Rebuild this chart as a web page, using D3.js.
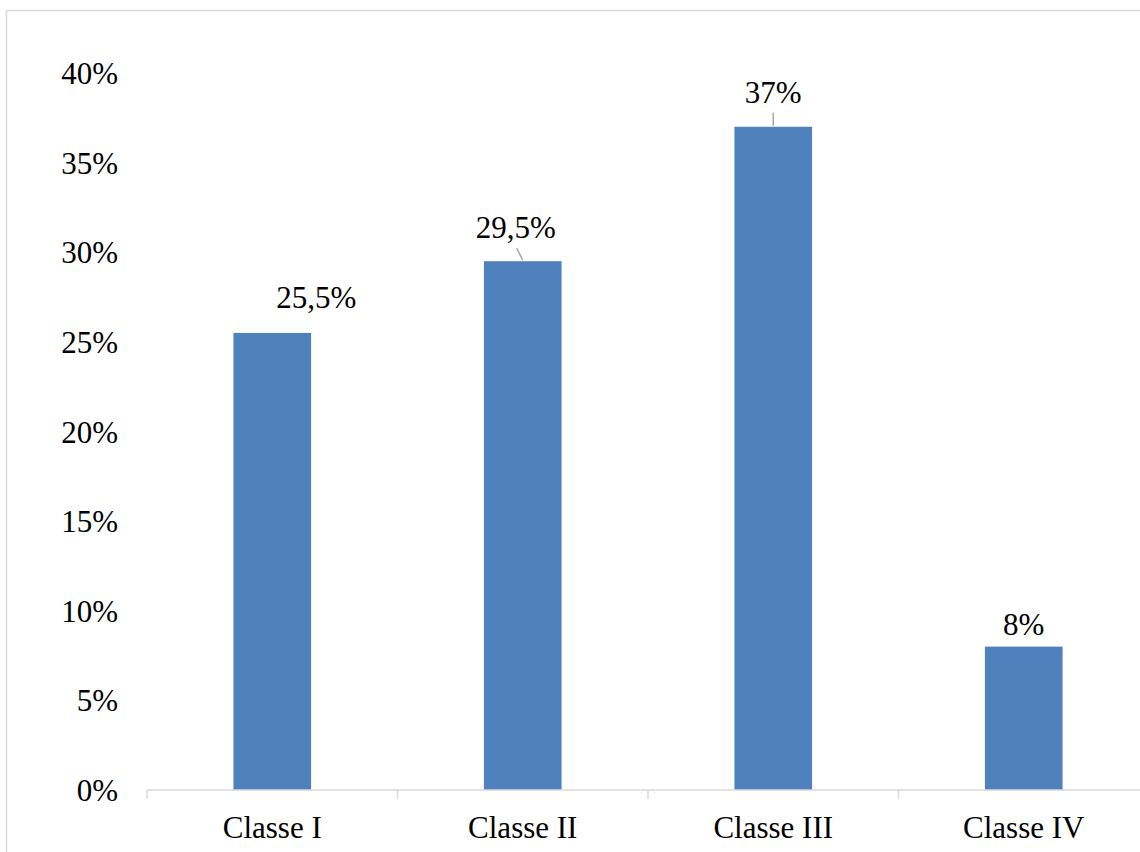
<!DOCTYPE html>
<html>
<head>
<meta charset="utf-8">
<script src="https://cdn.jsdelivr.net/npm/d3@7"></script>
<style>
  html, body { margin: 0; padding: 0; background: #fff; }
  svg { display: block; }
</style>
</head>
<body>
<svg id="chart" width="1140" height="852" font-family="Liberation Serif"></svg>
<script>
const categories = ["Classe I", "Classe II", "Classe III", "Classe IV"];
const values = [25.5, 29.5, 37, 8];
const valueLabels = ["25,5%", "29,5%", "37%", "8%"];
const yTicks = [0, 5, 10, 15, 20, 25, 30, 35, 40];

// manual label offsets (dx, dy above bar top) as placed in the original
const labelOffsets = [[44, -25], [-7, -23], [0, -24], [0, -12]];
const leaderLines = [null, [[-6, -13], [0, -1]], [[0, -14], [0, -1]], null];

const svg = d3.select("#chart");
const W = 1140, H = 852;

svg.append("rect")
  .attr("x", 6.5).attr("y", 10.5)
  .attr("width", W + 20).attr("height", H + 20)
  .attr("fill", "#fff").attr("stroke", "#d9d9d9").attr("stroke-width", 1.5);

const x0 = 147, x1 = 147 + 250.5 * 4;
const x = d3.scaleBand().domain(categories).range([x0, x1]).paddingInner(0.69).paddingOuter(0.345);
const y = d3.scaleLinear().domain([0, 40]).range([790, 73]);

// y axis labels
const yAxis = d3.axisLeft(y).tickValues(yTicks).tickFormat(d => d + "%").tickSize(0).tickPadding(0);
const gy = svg.append("g").attr("transform", "translate(118,0)").call(yAxis);
gy.attr("font-family", "Liberation Serif").attr("font-size", 31);
gy.select(".domain").remove();
gy.selectAll("text").attr("font-family", "Liberation Serif").attr("font-size", 31).attr("fill", "#000").attr("dy", "0.34em");

// bars
svg.selectAll("rect.bar").data(values).enter().append("rect")
  .attr("class", "bar")
  .attr("x", (d, i) => x(categories[i]))
  .attr("width", x.bandwidth())
  .attr("y", d => y(d))
  .attr("height", d => y(0) - y(d))
  .attr("fill", "#4f81bd");

// x axis
const xAxis = d3.axisBottom(x).tickSize(0).tickPadding(0);
const gx = svg.append("g").attr("transform", `translate(0,${y(0)})`).call(xAxis);
gx.attr("font-family", "Liberation Serif").attr("font-size", 31);
gx.select(".domain").remove();
gx.selectAll("text").attr("font-family", "Liberation Serif").attr("font-size", 31).attr("fill", "#000").attr("dy", "1.55em");
svg.append("line").attr("x1", x0).attr("x2", x1).attr("y1", y(0)).attr("y2", y(0))
  .attr("stroke", "#d9d9d9").attr("stroke-width", 1.5);
const bounds = categories.map(c => x(c) - x.step() * x.paddingInner() / 2).concat([x1]);
svg.selectAll("line.tk").data(bounds).enter().append("line")
  .attr("class", "tk")
  .attr("x1", d => d).attr("x2", d => d)
  .attr("y1", y(0)).attr("y2", y(0) + 9)
  .attr("stroke", "#d9d9d9").attr("stroke-width", 1.5);

// leader lines
values.forEach((v, i) => {
  const ll = leaderLines[i];
  if (!ll) return;
  const cx = x(categories[i]) + x.bandwidth() / 2, ty = y(v);
  svg.append("line")
    .attr("x1", cx + ll[0][0]).attr("y1", ty + ll[0][1])
    .attr("x2", cx + ll[1][0]).attr("y2", ty + ll[1][1])
    .attr("stroke", "#a6a6a6").attr("stroke-width", 1.5);
});

// value labels
svg.selectAll("text.vl").data(values).enter().append("text")
  .attr("class", "vl")
  .attr("x", (d, i) => x(categories[i]) + x.bandwidth() / 2 + labelOffsets[i][0])
  .attr("y", (d, i) => y(d) + labelOffsets[i][1])
  .attr("text-anchor", "middle")
  .attr("font-family", "Liberation Serif").attr("font-size", 31).attr("fill", "#000")
  .text((d, i) => valueLabels[i]);
</script>
</body>
</html>
